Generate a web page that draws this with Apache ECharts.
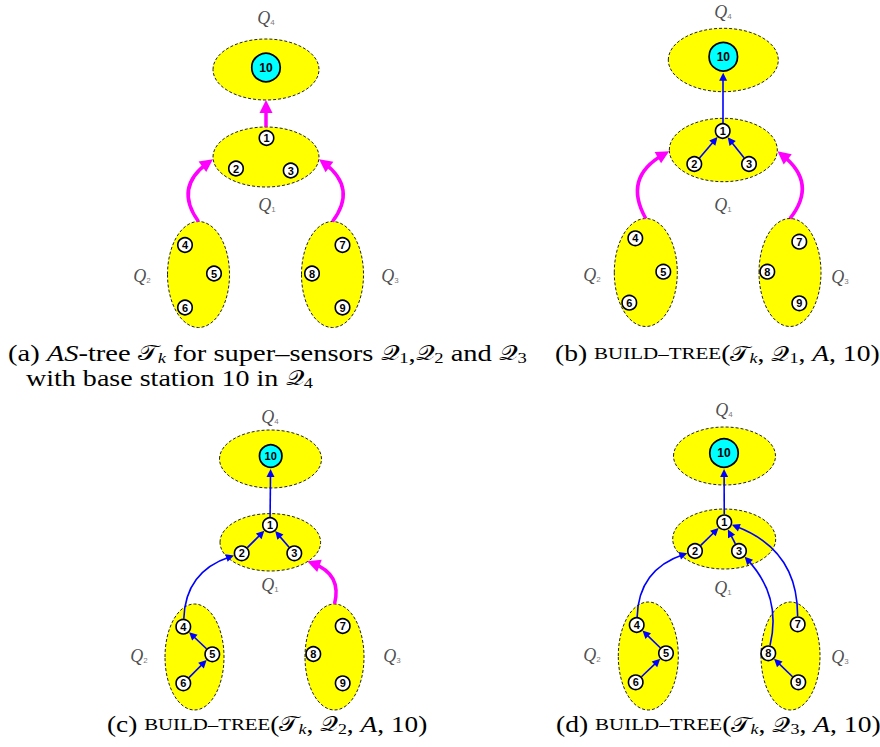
<!DOCTYPE html>
<html><head><meta charset="utf-8">
<script src="https://cdn.jsdelivr.net/npm/echarts@6/dist/echarts.min.js"></script>
<style>html,body{margin:0;padding:0;background:#fff}#c{width:880px;height:747px}</style>
</head><body><div id="c"></div>
<script>
// ===== DATA (diagram coordinates, one unit = one pixel of the 880x747 canvas) =====
// super-sensor regions: [name, cx, cy, rx, ry]
const ellipsesA = [['Q4',266,69.5,53,30.5],['Q1',266,157,53,30],['Q2',198.5,274.5,31,53],['Q3',332.5,274.5,31,53]];
const ellipsesB = [['Q4',723.3,60,55,31.7],['Q1',723.3,150,54,31.7],['Q2',645.8,272.5,31.5,54],['Q3',790,272.5,31,54]];
const ellipsesC = [['Q4',270.5,459,51,29],['Q1',270.3,542.3,50.3,28.7],['Q2',194.5,657,29.5,53],['Q3',334.5,657,29.5,53]];
const ellipsesD = [['Q4',724.5,456,51,29],['Q1',724.2,539,51.5,30],['Q2',648.3,656,30,54],['Q3',790.5,656,29.5,54]];
// sensor nodes: [id, x, y]
const nodesA = [[1,266.5,138],[2,236,168.5],[3,290.7,170.5],[4,185,245],[5,214,273.5],[6,185,307.5],[7,342.5,245],[8,312,273.5],[9,342.5,307.5]];
const nodesB = [[1,722.7,131],[2,694.3,164],[3,749,164],[4,635.3,238.3],[5,663.3,271.7],[6,629.3,302.7],[7,799.3,241.7],[8,767.3,271.7],[9,799.3,303.3]];
const nodesC = [[1,270,525],[2,241.7,553.3],[3,294.3,553.3],[4,183.3,626.7],[5,212.3,654.3],[6,183.3,683.3],[7,342.7,626],[8,313.3,654],[9,342.7,683.3]];
const nodesD = [[1,724.3,522.3],[2,695,551],[3,739,551],[4,636.7,625],[5,666,653.3],[6,635.7,682.3],[7,797.7,624.3],[8,768.3,653.3],[9,798.3,682.3]];
// base station: [id, x, y, radius]
const baseA = [10,266,67.5,15];
const baseB = [10,723.3,56.7,15];
const baseC = [10,270.7,456,12];
const baseD = [10,724,453,15];
// region labels: [subscript, x, y]
const qLabelsA = [['4',266,18],['1',267,205],['2',142,276],['3',390,276]];
const qLabelsB = [['4',723,12],['1',723,205],['2',592,275],['3',840,277]];
const qLabelsC = [['4',270,417],['1',270,585],['2',139,656],['3',392,656]];
const qLabelsD = [['4',724,410],['1',723,588],['2',592,655],['3',840,657]];
// super-sensor links: [fromRegion, fromAngleDeg, toRegion, toAngleDeg, curveness]
const magentaA = [['Q1',-90,'Q4',90,0],['Q2',-90,'Q1',175,0.5],['Q3',-90,'Q1',5,-0.5]];
const magentaB = [['Q2',-90,'Q1',177,0.5],['Q3',-90,'Q1',3,-0.5]];
const magentaC = [['Q3',-90,'Q1',43,-0.45]];
const magentaD = [];
// tree edges: [fromNode, toNode, curveness]
const blueA = [];
const blueB = [[1,10,0],[2,1,0],[3,1,0]];
const blueC = [[1,10,0],[2,1,0],[3,1,0],[5,4,0],[6,5,0],[4,2,0.35]];
const blueD = [[1,10,0],[2,1,0],[3,1,0],[5,4,0],[6,5,0],[9,8,0],[4,2,0.35],[8,3,-0.27],[7,1,-0.35]];

const panels = [
  {E:ellipsesA,N:nodesA,B:baseA,L:qLabelsA,M:magentaA,T:blueA},
  {E:ellipsesB,N:nodesB,B:baseB,L:qLabelsB,M:magentaB,T:blueB},
  {E:ellipsesC,N:nodesC,B:baseC,L:qLabelsC,M:magentaC,T:blueC},
  {E:ellipsesD,N:nodesD,B:baseD,L:qLabelsD,M:magentaD,T:blueD}
];

// ===== geometry helpers =====
const NODE_R = 8, BLUE_ARROW = 8, MAG_ARROW = 13;
function unit(v){const l=Math.hypot(v[0],v[1])||1;return [v[0]/l,v[1]/l];}
function ctrl(p1,p2,c){return [(p1[0]+p2[0])/2-(p1[1]-p2[1])*c,(p1[1]+p2[1])/2-(p2[0]-p1[0])*c];}
function trim(p1,p2,c,t1,t2){
  const cp=c?ctrl(p1,p2,c):null;
  const d1=unit(cp?[cp[0]-p1[0],cp[1]-p1[1]]:[p2[0]-p1[0],p2[1]-p1[1]]);
  const d2=unit(cp?[p2[0]-cp[0],p2[1]-cp[1]]:[p2[0]-p1[0],p2[1]-p1[1]]);
  return [[p1[0]+d1[0]*t1,p1[1]+d1[1]*t1],[p2[0]-d2[0]*t2,p2[1]-d2[1]*t2]];
}
function port(e,deg){const a=deg*Math.PI/180;return [e[1]+e[3]*Math.cos(a),e[2]+e[4]*Math.sin(a)];}

const ellipseData=[], nodeData=[], baseData=[], labelData=[], magData=[], blueData=[];
panels.forEach(p=>{
  const em={}; p.E.forEach(e=>{em[e[0]]=e; ellipseData.push([e[1],e[2],e[3],e[4]]);});
  const nm={}; p.N.forEach(n=>{nm[n[0]]={x:n[1],y:n[2],r:NODE_R}; nodeData.push([n[1],n[2],String(n[0])]);});
  nm[p.B[0]]={x:p.B[1],y:p.B[2],r:p.B[3]+1};
  baseData.push({value:[p.B[1],p.B[2],String(p.B[0])],symbolSize:p.B[3]*2-1.5,label:{fontSize:p.B[3]<14?11:12}});
  p.L.forEach(l=>labelData.push([l[1],l[2],l[0]]));
  p.M.forEach(m=>{
    const a=port(em[m[0]],m[1]), b=port(em[m[2]],m[3]);
    magData.push({coords:trim(a,b,m[4],0,MAG_ARROW/2),lineStyle:{curveness:m[4]}});
  });
  p.T.forEach(t=>{
    const a=nm[t[0]], b=nm[t[1]];
    blueData.push({coords:trim([a.x,a.y],[b.x,b.y],t[2],a.r,b.r+BLUE_ARROW/2),lineStyle:{curveness:t[2]}});
  });
});

const chart = echarts.init(document.getElementById('c'), null, {renderer:'svg'});
const serif = '"Liberation Serif", "DejaVu Serif", serif';
const capRich = {
  r:{fontFamily:serif,fontSize:23,color:'#000'},
  i:{fontFamily:serif,fontSize:23,fontStyle:'italic',color:'#000'},
  sc:{fontFamily:serif,fontSize:17.5,color:'#000'},
  c:{fontFamily:'"DejaVu Sans", "DejaVu Serif", serif',fontSize:21,color:'#000'},
  s:{fontFamily:serif,fontSize:15,color:'#000',padding:[10,0,0,0]},
  si:{fontFamily:serif,fontSize:15,fontStyle:'italic',color:'#000',padding:[10,0,0,0]}
};
function cap(text,x,y,sx){return {type:'text',x:x,y:y,z:10,scaleX:sx||1.2,style:{text:text,rich:capRich,verticalAlign:'middle',align:'left',fill:'#000'}};}

chart.setOption({
  animation:false,
  backgroundColor:'#fff',
  grid:{left:0,right:0,top:0,bottom:0},
  xAxis:{type:'value',min:0,max:880,show:false},
  yAxis:{type:'value',min:0,max:747,inverse:true,show:false},
  graphic:[
    cap('{r|(a) }{i|AS}{r|-tree }{c|𝒯}{si|k}{r| for super–sensors }{c|𝒬}{s|1}{r|,}{c|𝒬}{s|2}{r| and }{c|𝒬}{s|3}',8,353,1.24),
    cap('{r|with base station 10 in }{c|𝒬}{s|4}',26,378,1.22),
    cap('{r|(b) }{sc|BUILD–TREE}{r|(}{c|𝒯}{si|k}{r|, }{c|𝒬}{s|1}{r|, }{i|A}{r|, 10)}',555,353),
    cap('{r|(c) }{sc|BUILD–TREE}{r|(}{c|𝒯}{si|k}{r|, }{c|𝒬}{s|2}{r|, }{i|A}{r|, 10)}',107,724,1.19),
    cap('{r|(d) }{sc|BUILD–TREE}{r|(}{c|𝒯}{si|k}{r|, }{c|𝒬}{s|3}{r|, }{i|A}{r|, 10)}',556,724)
  ],
  series:[
    {type:'custom',z:1,silent:true,data:ellipseData,
     renderItem:function(params,api){
       const c=api.coord([api.value(0),api.value(1)]);
       const s=api.size([api.value(2),api.value(3)]);
       return {type:'ellipse',shape:{cx:c[0],cy:c[1],rx:s[0],ry:s[1]},
               style:{fill:'#ffff00',stroke:'#222',lineWidth:1,lineDash:[3,2]}};
     }},
    {type:'lines',coordinateSystem:'cartesian2d',z:2,silent:true,data:magData,
     symbol:['none','triangle'],symbolSize:MAG_ARROW,
     lineStyle:{color:'#ff00ff',width:3.5,opacity:1}},
    {type:'lines',coordinateSystem:'cartesian2d',z:3,silent:true,data:blueData,
     symbol:['none','triangle'],symbolSize:BLUE_ARROW,
     lineStyle:{color:'#0000ff',width:1.6,opacity:1}},
    {type:'scatter',z:4,silent:true,data:nodeData,symbol:'circle',symbolSize:NODE_R*2-1.5,
     itemStyle:{color:'#fff',borderColor:'#000',borderWidth:1.6,opacity:1},
     label:{show:true,position:'inside',formatter:p=>p.value[2],
            fontFamily:'"Liberation Sans", Arial, sans-serif',fontWeight:'bold',fontSize:11,color:'#000'}},
    {type:'scatter',z:4,silent:true,data:baseData,symbol:'circle',
     itemStyle:{color:'#00ffff',borderColor:'#000',borderWidth:1.7,opacity:1},
     label:{show:true,position:'inside',formatter:p=>p.value[2],
            fontFamily:'"Liberation Sans", Arial, sans-serif',fontWeight:'bold',fontSize:12,color:'#000'}},
    {type:'scatter',z:5,silent:true,data:labelData,symbolSize:1,itemStyle:{color:'rgba(0,0,0,0)'},
     label:{show:true,position:'inside',formatter:p=>'{q|Q}{s|'+p.value[2]+'}',
            rich:{q:{fontFamily:serif,fontStyle:'italic',fontSize:18,color:'#222'},
                  s:{fontFamily:'"Liberation Sans", sans-serif',fontSize:8,color:'#555',padding:[9,0,0,0]}}}}
  ]
});
</script></body></html>
